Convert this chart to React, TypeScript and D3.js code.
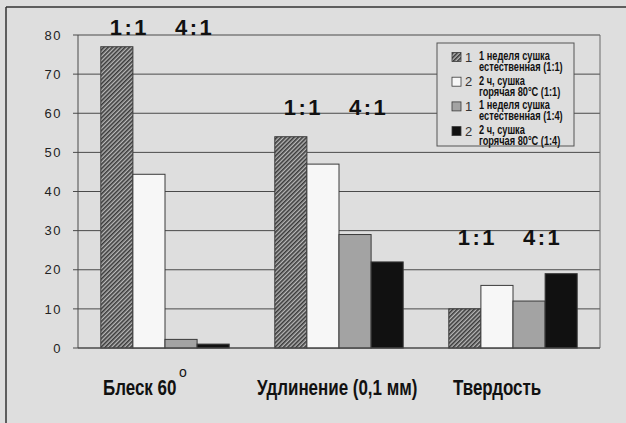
import React from "react";
import * as d3 from "d3";

const categories = ["Блеск 60", "Удлинение (0,1 мм)", "Твердость"];
const seriesKeys = ["s1", "s2", "s3", "s4"];
const seriesNumbers = ["1", "2", "1", "2"];
const seriesLabels = [
  ["1 неделя сушка", "естественная (1:1)"],
  ["2 ч, сушка", "горячая 80°C (1:1)"],
  ["1 неделя сушка", "естественная (1:4)"],
  ["2 ч, сушка", "горячая 80°C (1:4)"],
];
const values = [
  [77, 44.4, 2.2, 1],
  [54, 47, 29, 22],
  [10, 16, 12, 19],
];
const ratioLabels = ["1:1", "4:1"];
const ratioLevels = [80, 59.6, 26.3];
const yTicks = [0, 10, 20, 30, 40, 50, 60, 70, 80];

const W = 626;
const H = 423;
const BG = "#dedede";
const fills = ["url(#hatch)", "#f7f7f7", "#a3a3a3", "#111111"];

export default function App() {
  const left = 78, right = 600, top = 35, bottom = 348;
  const x = d3.scaleBand<string>().domain(categories).range([left, right]).padding(0);
  const xi = d3.scaleBand<string>().domain(seriesKeys).range([0, x.bandwidth()]).paddingInner(0).paddingOuter(0.71);
  const y = d3.scaleLinear().domain([0, 80]).range([bottom, top]);

  const sans = "'Liberation Sans', Arial, sans-serif";
  const catOffsets = [25, 5, 27];
  const ratioOffsets = [0.29, 0.665];
  const squeeze = 0.77;

  const lgX = 437, lgY = 43, lgW = 137, lgH = 103;

  return (
    <svg width={W} height={H} style={{ position: "absolute", left: 0, top: 0, background: BG }}>
      <defs>
        <pattern id="hatch" width={3} height={3} patternUnits="userSpaceOnUse" patternTransform="rotate(45)">
          <rect width={3} height={3} fill="#b8b8b8" />
          <rect width={1.6} height={3} fill="#3a3a3a" />
        </pattern>
      </defs>
      <rect x={0} y={0} width={W} height={H} fill={BG} />
      {/* frame */}
      <line x1={6} y1={7} x2={W} y2={7} stroke="#333" strokeWidth={1.5} />
      <line x1={6} y1={7} x2={6} y2={H} stroke="#333" strokeWidth={1.5} />

      {/* gridlines */}
      {yTicks.map((t) => (
        <line key={t} x1={left - 5} x2={right} y1={y(t)} y2={y(t)} stroke="#4a4a4a" strokeWidth={1} />
      ))}
      <line x1={left} x2={left} y1={top} y2={bottom} stroke="#4a4a4a" strokeWidth={1} />
      <line x1={right} x2={right} y1={top} y2={bottom} stroke="#6a6a6a" strokeWidth={1} />

      {/* tick labels */}
      {yTicks.map((t) => (
        <text key={t} x={left - 16} y={y(t)} dy="0.36em" textAnchor="end" fontFamily={sans} fontSize={13} letterSpacing={1.5} fill="#222">
          {t}
        </text>
      ))}

      {/* bars */}
      {categories.map((c, ci) => (
        <g key={c} transform={`translate(${x(c)},0)`}>
          {seriesKeys.map((s, si) => (
            <rect
              key={s}
              x={xi(s)}
              y={y(values[ci][si])}
              width={xi.bandwidth()}
              height={y(0) - y(values[ci][si])}
              fill={fills[si]}
              stroke="#3a3a3a"
              strokeWidth={1}
            />
          ))}
        </g>
      ))}
      <line x1={left} x2={right} y1={bottom} y2={bottom} stroke="#4a4a4a" strokeWidth={1.2} />

      {/* ratio labels */}
      {categories.map((c, ci) =>
        ratioLabels.map((r, ri) => (
          <text key={c + r} x={(x(c) as number) + x.bandwidth() * ratioOffsets[ri] + 1} y={y(ratioLevels[ci])} textAnchor="middle" fontFamily={sans} fontWeight="bold" fontSize={22} letterSpacing={2.5} fill="#111">
            {r}
          </text>
        ))
      )}

      {/* category labels */}
      {categories.map((c, ci) => (
        <g key={c} transform={`translate(${(x(c) as number) + catOffsets[ci]},395) scale(${squeeze},1)`}>
          <text x={0} y={0} fontFamily={sans} fontWeight="bold" fontSize={22} fill="#111">
            {c}
          </text>
        </g>
      ))}
      <text x={(x(categories[0]) as number) + catOffsets[0] + 76} y={377} fontFamily={sans} fontSize={14} fill="#111">
        o
      </text>

      {/* legend */}
      <rect x={lgX} y={lgY} width={lgW} height={lgH} fill={BG} stroke="#555" strokeWidth={1} />
      {seriesKeys.map((s, si) => {
        const cy = 57 + si * 24.7;
        return (
          <g key={s}>
            <rect x={452} y={cy - 4.5} width={9} height={9} fill={fills[si]} stroke="#3a3a3a" strokeWidth={0.8} />
            <text x={465} y={cy + 4.5} fontFamily={sans} fontSize={13} fill="#333">
              {seriesNumbers[si]}
            </text>
            {seriesLabels[si].map((l, li) => (
              <g key={li} transform={`translate(479,${cy + 3 + li * 11}) scale(${squeeze},1)`}>
                <text x={0} y={0} fontFamily={sans} fontWeight="bold" fontSize={12} fill="#111">
                  {l}
                </text>
              </g>
            ))}
          </g>
        );
      })}
    </svg>
  );
}
